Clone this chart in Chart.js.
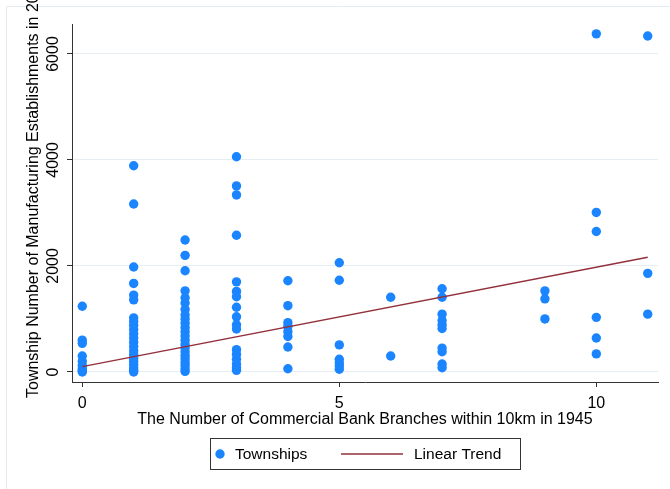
<!DOCTYPE html>
<html>
<head>
<meta charset="utf-8">
<script src="https://cdn.jsdelivr.net/npm/chart.js@4.4.0/dist/chart.umd.min.js"></script>
<style>
    html, body { margin: 0; padding: 0; background: #fff; }
</style>
</head>
<body>
<canvas id="graphique" width="670" height="489"></canvas>
<script>
// Number of bank branches within 10km in 1945 (x) and the townships at each count (y)
const branchCounts = [0, 1, 2, 3, 4, 5, 6, 7, 9, 10, 11];
const establishments = [
    [1240, 600, 540, 300, 200, 120, 60, 20, 0],
    [3890, 3170, 1980, 1670, 1450, 1360, 1020, 950, 880, 800, 720, 640, 560, 480, 400, 330, 260, 200, 140, 80, 30, 0],
    [2490, 2200, 1910, 1530, 1400, 1300, 1180, 1080, 1000, 920, 840, 760, 680, 600, 520, 450, 380, 310, 250, 180, 120, 60, 10],
    [4060, 3510, 3340, 2580, 1700, 1520, 1420, 1220, 1040, 890, 810, 420, 330, 240, 150, 80, 30],
    [1720, 1250, 930, 860, 760, 670, 470, 60],
    [2060, 1730, 510, 240, 170, 110, 50],
    [1410, 300],
    [1570, 1410, 1090, 970, 890, 820, 450, 380, 150, 80],
    [1530, 1380, 1000],
    [6380, 3010, 2650, 1030, 640, 340],
    [6340, 1860, 1090]
];

// Fitted line, read at both ends
const trendX = [0, 11];
const trendY = [100, 2164];

const xTicks = [0, 5, 10];
const yTicks = [0, 2000, 4000, 6000];

const COULEUR_POINT = '#1a85ff';
const COULEUR_LIGNE = '#93303c';
const POLICE = '"Liberation Sans", Arial, Helvetica, sans-serif';

const points = [];
branchCounts.forEach((b, i) => {
    establishments[i].forEach(v => points.push({ x: b, y: v }));
});
const trend = trendX.map((x, i) => ({ x: x, y: trendY[i] }));

// Background frame, rotated y title and boxed legend
const decor = {
    id: 'decor',
    beforeDraw(chart) {
        const ctx = chart.ctx;
        ctx.save();
        ctx.fillStyle = '#fff';
        ctx.fillRect(0, 0, chart.width, chart.height);
        ctx.strokeStyle = '#e3eaf0';
        ctx.lineWidth = 1;
        ctx.beginPath();
        ctx.moveTo(6.5, chart.height);
        ctx.lineTo(6.5, 6.5);
        ctx.lineTo(chart.width, 6.5);
        ctx.stroke();
        ctx.restore();
    },
    afterDraw(chart) {
        const ctx = chart.ctx;
        ctx.save();

        // y title
        ctx.translate(33.5, 398);
        ctx.rotate(-Math.PI / 2);
        ctx.font = '16px ' + POLICE;
        ctx.fillStyle = '#000';
        ctx.textAlign = 'left';
        ctx.textBaseline = 'middle';
        ctx.fillText('Township Number of Manufacturing Establishments in 200', 0, 0);
        ctx.setTransform(1, 0, 0, 1, 0, 0);

        // legend
        const ds = chart.data.datasets;
        const yMid = 454;
        ctx.strokeStyle = '#333';
        ctx.lineWidth = 1;
        ctx.strokeRect(210.5, 438.5, 310, 31);

        ctx.fillStyle = ds[0].backgroundColor;
        ctx.beginPath();
        ctx.arc(220, yMid, 4.7, 0, Math.PI * 2);
        ctx.fill();

        ctx.strokeStyle = ds[1].borderColor;
        ctx.lineWidth = ds[1].borderWidth;
        ctx.beginPath();
        ctx.moveTo(341, yMid);
        ctx.lineTo(403, yMid);
        ctx.stroke();

        ctx.font = '15.5px ' + POLICE;
        ctx.fillStyle = '#000';
        ctx.textAlign = 'left';
        ctx.textBaseline = 'middle';
        ctx.fillText(ds[0].label, 235, yMid + 1);
        ctx.fillText(ds[1].label, 414, yMid + 1);
        ctx.restore();
    }
};

const ctx = document.getElementById('graphique').getContext('2d');
new Chart(ctx, {
    type: 'scatter',
    data: {
        datasets: [{
            label: 'Townships',
            data: points,
            backgroundColor: COULEUR_POINT,
            borderWidth: 0,
            pointRadius: 4.7,
            pointHoverRadius: 4.7,
            order: 1
        }, {
            label: 'Linear Trend',
            data: trend,
            showLine: true,
            borderColor: COULEUR_LIGNE,
            borderWidth: 1.3,
            pointRadius: 0,
            order: 0
        }]
    },
    options: {
        responsive: false,
        animation: false,
        layout: { padding: { top: 24, right: 12, left: 0, bottom: 0 } },
        plugins: {
            legend: { display: false },
            tooltip: { enabled: false }
        },
        scales: {
            x: {
                type: 'linear',
                min: -0.2,
                max: 11.2,
                afterBuildTicks: s => { s.ticks = xTicks.map(v => ({ value: v })); },
                afterFit: s => { s.height = 107; },
                grid: { drawOnChartArea: false, tickLength: 5, tickColor: '#333' },
                border: { color: '#333', width: 1 },
                ticks: {
                    padding: 7,
                    color: '#000',
                    font: { family: POLICE, size: 16 },
                    callback: v => String(v)
                },
                title: {
                    display: true,
                    text: 'The Number of Commercial Bank Branches within 10km in 1945',
                    color: '#000',
                    font: { family: POLICE, size: 16 },
                    padding: { top: 0, bottom: 60 }
                }
            },
            y: {
                type: 'linear',
                min: -190,
                max: 6566,
                afterBuildTicks: s => { s.ticks = yTicks.map(v => ({ value: v })); },
                afterFit: s => { s.width = 72; },
                grid: { color: '#e6edf3', tickLength: 5, tickColor: '#333' },
                border: { color: '#333', width: 1 },
                ticks: {
                    minRotation: 90,
                    maxRotation: 90,
                    crossAlign: 'center',
                    padding: -4,
                    color: '#000',
                    font: { family: POLICE, size: 16 },
                    callback: v => String(v)
                }
            }
        }
    },
    plugins: [decor]
});
</script>
</body>
</html>
